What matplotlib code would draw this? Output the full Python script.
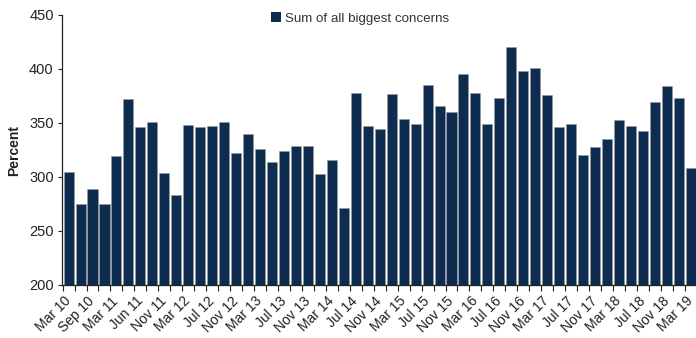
import matplotlib
matplotlib.use("Agg")
import matplotlib.pyplot as plt
from matplotlib.patches import Patch
from matplotlib.ticker import FixedLocator

plt.rcParams['font.family'] = ['Liberation Sans', 'DejaVu Sans']

tick_labels = ["Mar 10", "Sep 10", "Mar 11", "Jun 11", "Nov 11", "Mar 12", "Jul 12",
               "Nov 12", "Mar 13", "Jul 13", "Nov 13", "Mar 14", "Jul 14", "Nov 14",
               "Mar 15", "Jul 15", "Nov 15", "Mar 16", "Jul 16", "Nov 16", "Mar 17",
               "Jul 17", "Nov 17", "Mar 18", "Jul 18", "Nov 18", "Mar 19"]

values = [305, 275, 289, 275, 319, 372, 346, 351, 304, 283,
          348, 346, 347, 351, 322, 340, 326, 314, 324, 329,
          329, 303, 316, 271, 378, 347, 344, 377, 354, 349,
          385, 366, 360, 395, 378, 349, 373, 420, 398, 401,
          376, 346, 349, 320, 328, 335, 353, 347, 343, 369,
          384, 373, 308]

series_name = "Sum of all biggest concerns"

fig = plt.figure(figsize=(6.96, 3.38), dpi=100)
ax = fig.add_axes([62/696, 1 - 285/338, (697.4 - 62)/696, (285 - 15)/338])

x = list(range(len(values)))
ax.bar(x, values, width=0.84, color="#0E2C4F", edgecolor="#9a9a9a", linewidth=0.4)
ax.set_ylim(200, 450)
ax.set_xlim(-0.55, len(values) - 0.45)
ax.set_yticks([200, 250, 300, 350, 400, 450])
ax.tick_params(axis='y', labelsize=10.5, length=3, width=0.8, colors='#222222', pad=3)

label_pos = [2 * i for i in range(len(tick_labels))]
ax.set_xticks(label_pos)
ax.set_xticklabels(tick_labels, rotation=45, ha='right', va='center',
                   rotation_mode='anchor', fontsize=10, color='#222222')
ax.tick_params(axis='x', which='major', length=0, pad=10)
ax.xaxis.set_minor_locator(FixedLocator([i - 0.5 for i in range(len(values) + 1)]))
ax.tick_params(axis='x', which='minor', length=4, width=0.8, color='#222222')

for s in ['top', 'right']:
    ax.spines[s].set_visible(False)
for s in ['left', 'bottom']:
    ax.spines[s].set_color('#222222')
    ax.spines[s].set_linewidth(0.9)

ax.set_ylabel("Percent", fontsize=10, fontweight='bold', color='#222222', labelpad=6)

leg = ax.legend(handles=[Patch(facecolor="#0E2C4F", edgecolor='none', label=series_name)],
                loc='upper center', frameon=False, fontsize=9.6, handlelength=0.75,
                handleheight=0.75, handletextpad=0.3)
leg.set_bbox_to_anchor((360/696, 1.0), transform=fig.transFigure)
for t in leg.get_texts():
    t.set_color('#333333')

fig.savefig("out.png", dpi=100)
